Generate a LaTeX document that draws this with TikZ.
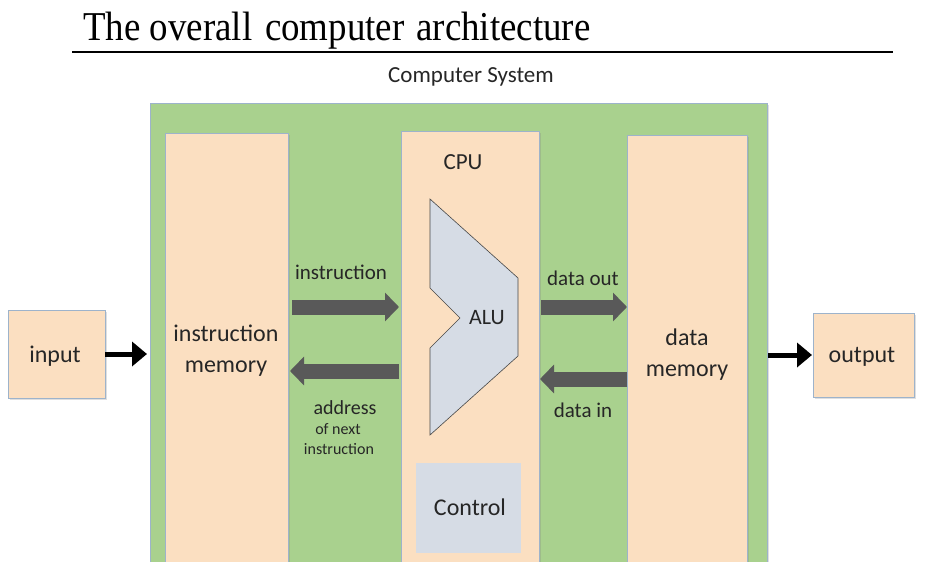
\documentclass[tikz,border=0pt]{standalone}
\usepackage{fontspec}
\setmainfont{Carlito}
\newfontfamily\titlefont{Liberation Serif}
\usetikzlibrary{arrows.meta,shadows}
\definecolor{sysgreen}{HTML}{A9D18E}
\definecolor{peach}{HTML}{FBDFC1}
\definecolor{slate}{HTML}{D6DCE5}
\definecolor{arrowgray}{HTML}{595959}
\definecolor{edgeblue}{HTML}{9DB3CB}
\definecolor{ink}{HTML}{262626}
\begin{document}
\begin{tikzpicture}[x=1pt,y=-1pt,
  box/.style={draw=edgeblue, line width=0.8pt, inner sep=0pt, outer sep=0pt, anchor=north west,
    drop shadow={opacity=0.25, shadow xshift=1.5pt, shadow yshift=-1.5pt}},
  peachbox/.style={box, fill=peach},
  lbl/.style={text=ink, inner sep=0pt, align=center},
  garrow/.style={draw=arrowgray, line width=15pt, -{Triangle[width=28pt,length=14pt]}},
  barrow/.style={draw=black, line width=5pt, -{Triangle[width=24pt,length=15pt]}}
]
\useasboundingbox (0,0) rectangle (940,562);
\clip (0,0) rectangle (940,562);
\fill[white] (0,0) rectangle (940,562);

% title
\node[anchor=base west, inner sep=0pt] (title) at (83,40)
  {\scalebox{0.9}[1]{\titlefont\fontsize{41}{41}\selectfont The overall\hspace{4pt} computer\hspace{3pt} architecture}};
\draw[line width=1.5pt] (72,52) -- (893,52);

\node[lbl, font=\fontsize{23}{27}\selectfont] (systxt) at (471,77) {Computer System};

% boxes
\node[box, fill=sysgreen, minimum width=617pt, minimum height=520pt] (sys) at (150,103) {};
\node[peachbox, minimum width=123pt, minimum height=480pt] (imem) at (165,133) {};
\node[peachbox, minimum width=138pt, minimum height=480pt] (cpu) at (401,131) {};
\node[peachbox, minimum width=120pt, minimum height=480pt] (dmem) at (627,135) {};
\node[peachbox, minimum width=97pt, minimum height=88pt] (input) at (8,310) {};
\node[peachbox, minimum width=101pt, minimum height=84pt] (output) at (813,313) {};
\node[fill=slate, inner sep=0pt, anchor=north west, minimum width=105pt, minimum height=90pt] (control) at (416,463) {};

% ALU shape
\draw[fill=slate, draw=ink!85, line width=0.6pt]
  (430,199) -- (518,278) -- (518,356) -- (430,435) -- (430,348) -- (460,318) -- (430,288) -- cycle;

% texts
\node[lbl, font=\fontsize{24}{31}\selectfont] (imemtxt) at (226,351) {instruction\\memory};
\node[lbl, font=\fontsize{24}{31}\selectfont] (dmemtxt) at (687,355) {data\\memory};
\node[lbl, font=\fontsize{23}{28}\selectfont] (cputxt) at (463,162) {CPU};
\node[lbl, font=\fontsize{22}{26}\selectfont] (alutxt) at (487,318) {ALU};
\node[lbl, font=\fontsize{24}{28}\selectfont] (ctrltxt) at (470,507) {Control};
\node[lbl, font=\fontsize{24}{28}\selectfont] (inputtxt) at (55,356) {input};
\node[lbl, font=\fontsize{24}{28}\selectfont] (outputtxt) at (862,357) {output};

\node[lbl, font=\fontsize{21}{25}\selectfont] (instrlbl) at (341,272) {instruction};
\node[lbl, font=\fontsize{21}{25}\selectfont] (doutlbl) at (583,278) {data out};
\node[lbl, font=\fontsize{20}{24}\selectfont] (addrlbl) at (345,408) {address};
\node[lbl, font=\fontsize{16}{20}\selectfont] (nextlbl) at (338,429) {of next};
\node[lbl, font=\fontsize{16}{20}\selectfont] (nextinstr) at (339,449) {instruction};
\node[lbl, font=\fontsize{21}{25}\selectfont] (dinlbl) at (583,410) {data in};

% arrow levels
\coordinate (yI) at (0,307);
\coordinate (yA) at (0,371);
\coordinate (yO) at (0,307);
\coordinate (yD) at (0,379);

\draw[garrow, shorten <=4pt, shorten >=2pt] (imem.east |- yI) -- (cpu.west |- yI);
\draw[garrow, shorten <=2pt, shorten >=2pt] (cpu.west |- yA) -- (imem.east |- yA);
\draw[garrow, shorten <=2pt] (cpu.east |- yO) -- (dmem.west |- yO);
\draw[garrow, shorten >=1pt] (dmem.west |- yD) -- (cpu.east |- yD);

\draw[barrow, shorten >=3pt] (input.east) -- (input.east -| sys.west);
\draw[barrow, shorten <=1pt, shorten >=1pt] (output.west -| sys.east) -- (output.west);
\end{tikzpicture}
\end{document}
